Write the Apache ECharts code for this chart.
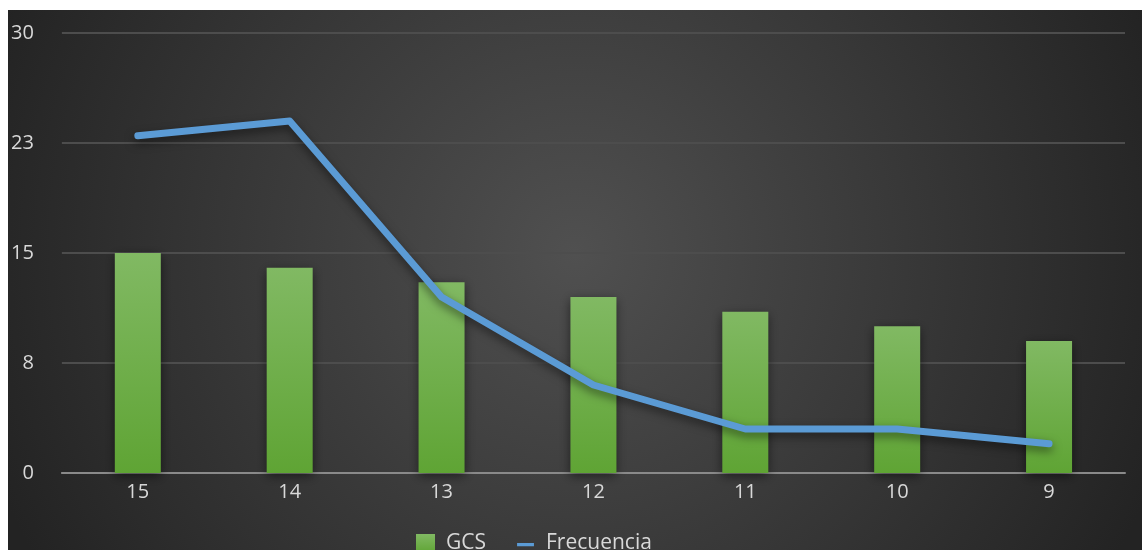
<!DOCTYPE html>
<html>
<head>
<meta charset="utf-8">
<script src="https://cdn.jsdelivr.net/npm/echarts@6/dist/echarts.min.js"></script>
<style>
html,body{margin:0;padding:0;background:#fff;width:1142px;height:550px;overflow:hidden;}
#chart{position:absolute;left:8px;top:10px;width:1134px;height:540px;}
</style>
</head>
<body>
<div id="chart"></div>
<script>
var categories = ['15','14','13','12','11','10','9'];
var gcsValues = [15, 14, 13, 12, 11, 10, 9];
var frecuenciaValues = [23, 24, 12, 6, 3, 3, 2];
var yMin = 0, yMax = 30, yInterval = 7.5;

var chart = echarts.init(document.getElementById('chart'));
var txt = '#d9d9d9';
var fontFam = 'Open Sans';
chart.setOption({
  backgroundColor: {
    type: 'radial', x: 0.5, y: 0.45, r: 1.15,
    colorStops: [
      {offset: 0, color: '#505050'},
      {offset: 1, color: '#232323'}
    ]
  },
  animation: false,
  grid: {left: 53, right: 17, top: 23, bottom: 77, containLabel: false},
  legend: {
    top: 518,
    left: 403,
    itemWidth: 19,
    itemHeight: 19,
    itemGap: 30,
    textStyle: {color: txt, fontSize: 21, fontFamily: fontFam, padding: [0, 0, 0, 6]},
    data: [
      {name: 'GCS', icon: 'rect'},
      {name: 'Frecuencia', icon: 'path://M0,0h0.01v0.01h-0.01z M1,8.5h16v3h-16z M17.99,17.99h0.01v0.01h-0.01z', itemStyle: {color: '#5b9bd5'}}
    ]
  },
  xAxis: {
    type: 'category',
    data: categories,
    axisLine: {lineStyle: {color: '#8a8a8a', width: 2}},
    axisTick: {show: false},
    axisLabel: {color: txt, fontSize: 20, fontFamily: fontFam, margin: 9}
  },
  yAxis: {
    type: 'value',
    min: yMin, max: yMax, interval: yInterval,
    axisLine: {show: false},
    axisTick: {show: false},
    axisLabel: {color: txt, fontSize: 20, fontFamily: fontFam, margin: 28,
      formatter: function (v) { return String(Math.round(v)); }},
    splitLine: {lineStyle: {color: '#4d4d4d', width: 2}}
  },
  series: [
    {
      name: 'GCS',
      type: 'bar',
      data: gcsValues,
      barWidth: 46,
      itemStyle: {
        color: {type: 'linear', x: 0, y: 0, x2: 0, y2: 1, colorStops: [
          {offset: 0, color: '#81b963'}, {offset: 1, color: '#5fa434'}]},
        shadowBlur: 10, shadowColor: 'rgba(0,0,0,0.5)', shadowOffsetY: 3
      },
      z: 2
    },
    {
      name: 'Frecuencia',
      type: 'line',
      data: frecuenciaValues,
      symbol: 'none',
      lineStyle: {color: '#5b9bd5', width: 7, cap: 'round', join: 'round',
        shadowBlur: 10, shadowColor: 'rgba(0,0,0,0.5)', shadowOffsetY: 4},
      itemStyle: {color: '#5b9bd5'},
      z: 3
    }
  ]
});
</script>
</body>
</html>
